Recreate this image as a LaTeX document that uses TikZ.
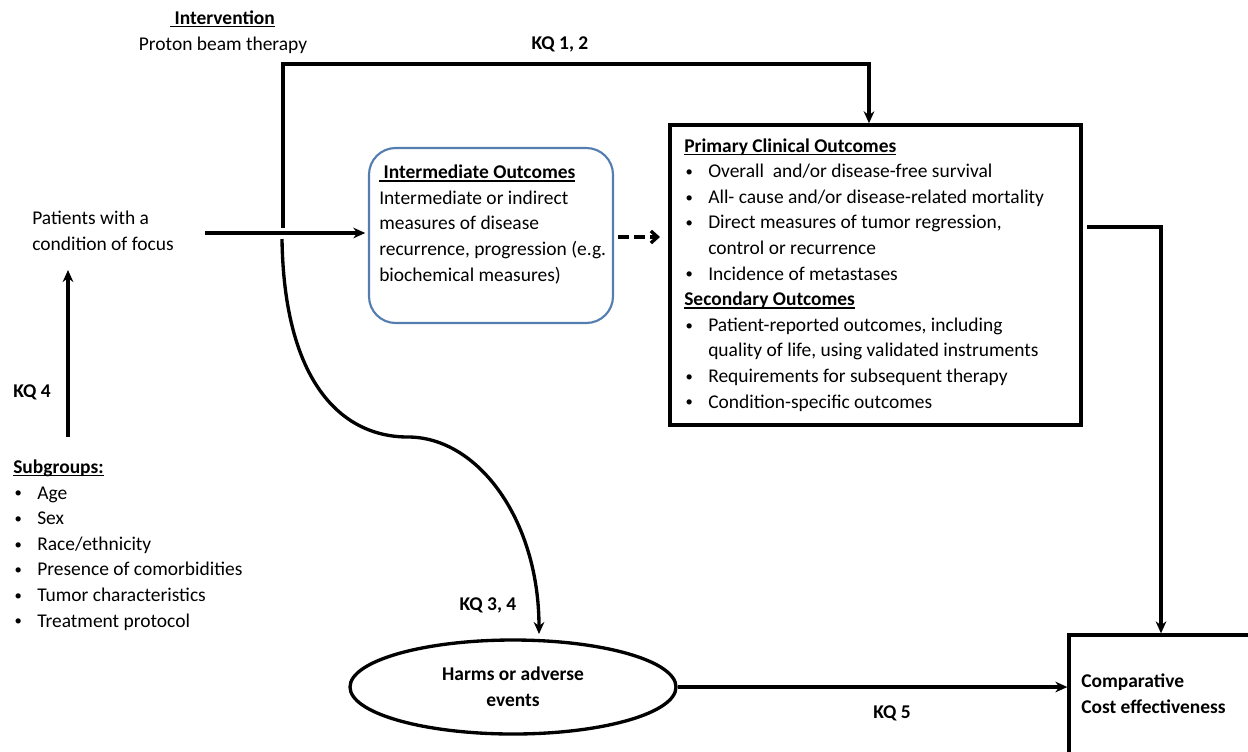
\documentclass[tikz,border=0pt]{standalone}
\usepackage{fontspec}
\setmainfont{Carlito}
\usetikzlibrary{arrows.meta,shapes.geometric}
\definecolor{boxblue}{RGB}{84,126,176}
\newcommand\ulb[1]{\setbox0\hbox{#1}\rlap{\rule[-2.2pt]{\wd0}{0.9pt}}\box0}
\newcommand\bl{\makebox[18pt][l]{\hspace{1pt}\raisebox{0.8pt}{\fontsize{11pt}{11pt}\selectfont\textbullet}}}
\newcommand\ind{\hspace*{18pt}}
\begin{document}
\begin{tikzpicture}[x=0.75pt,y=-0.75pt,
  every node/.style={font=\fontsize{14.6pt}{19.2pt}\selectfont, inner sep=0pt},
  bold/.style={font=\fontsize{14.6pt}{19.2pt}\selectfont\bfseries},
  arr/.style={line width=2.5pt,-{Stealth[length=9pt,width=8pt]}},
  txt/.style={anchor=base west, align=left},
]
\useasboundingbox (0,0) rectangle (1248,751);

% texts (base anchor = baseline of last line)
\node[anchor=base] (intv) at (222.5,24) {\ulb{\bfseries\ Intervention}};
\node[anchor=base] (proton) at (223,50) {Proton beam therapy};
\node[anchor=base, bold] (kq12) at (560,49) {KQ 1, 2};
\node[txt] (pat) at (32,250) {Patients with a\\condition of focus};
\node[txt, bold] (kq4) at (13,397) {KQ 4};
\node[txt] (sub) at (13,627) {\ulb{\bfseries Subgroups:}\\ \bl Age\\ \bl Sex\\ \bl Race/ethnicity\\ \bl Presence of comorbidities\\ \bl Tumor characteristics\\ \bl Treatment protocol};

% intermediate box
\node[draw=boxblue, line width=1.6pt, rounded corners=20pt, minimum width=183pt, minimum height=131.25pt] (imbox) at (491,235.5) {};
\node[txt] (imtext) at (379,281) {\ulb{\bfseries\ Intermediate Outcomes}\\Intermediate or indirect\\measures of disease\\recurrence, progression (e.g.\\biochemical measures)};

% primary box
\node[draw, line width=2.6pt, minimum width=308.25pt, minimum height=225pt] (prim) at (875.5,275) {};
\node[txt] (primtext) at (684,408) {\ulb{\bfseries Primary Clinical Outcomes}\\
\bl Overall\ \ and/or disease-free survival\\
\bl All- cause and/or disease-related mortality\\
\bl Direct measures of tumor regression,\\
\ind control or recurrence\\
\bl Incidence of metastases\\
\ulb{\bfseries Secondary Outcomes}\\
\bl Patient-reported outcomes, including\\
\ind quality of life, using validated instruments\\
\bl Requirements for subsequent therapy\\
\bl Condition-specific outcomes};

% cost box
\node[draw, line width=2.5pt, minimum width=150.75pt, minimum height=101.25pt] (cost) at (1169.5,702.5) {};
\node[txt, bold] (costtext) at (1081,713) {Comparative\\Cost effectiveness};

% harms ellipse
\node[ellipse, draw, line width=2.5pt, minimum width=244.5pt, minimum height=70.5pt, bold, align=center] (harm) at (513,687) {Harms or adverse\\events};
\node[anchor=base, bold] (kq34) at (488,610) {KQ 3, 4};
\node[anchor=base, bold] (kq5) at (892,718) {KQ 5};

% connectors
\coordinate (pa) at (205,233);
\draw[arr, shorten >=2pt] (pa) -- (pa -| imbox.west);

\coordinate (k4b) at (68,437);
\coordinate (k4t) at (68,270);
\draw[arr] (k4b) -- (k4t);

\coordinate (bs) at (283,228);
\coordinate (tl) at (283,64);
\coordinate (tr) at (869,64);
\draw[arr] (bs) -- (tl) -- (tr) -- (tr |- prim.north);

\coordinate (cs) at (282,239);
\coordinate (cm) at (408,437);
\coordinate (ce) at (539,634);
\draw[arr] (cs) .. controls (284,380) and (340,437) .. (cm) .. controls (478,437) and (539,520) .. (ce);

\coordinate (ds) at (618,237);
\coordinate (de) at (660,237);
\draw[line width=2.5pt, dash pattern=on 8pt off 4pt, -{Straight Barb[length=5pt,width=9pt]}] (ds) -- (de);

\coordinate (pe) at (1087,227);
\coordinate (pc) at (1161,227);
\draw[arr] (pe) -- (pc) -- (pc |- cost.north);

\draw[arr] (harm.east) -- (harm.east -| cost.west);
\end{tikzpicture}
\end{document}
